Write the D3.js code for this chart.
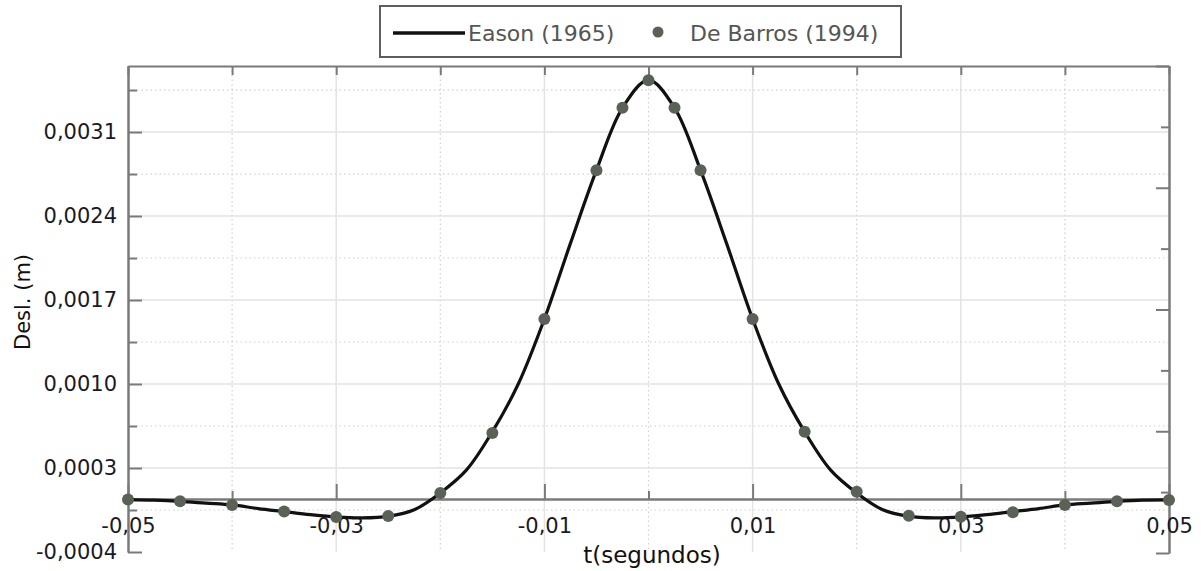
<!DOCTYPE html>
<html>
<head>
<meta charset="utf-8">
<script src="https://cdn.jsdelivr.net/npm/d3@7"></script>
<style>
  body { margin: 0; background: #fff; }
  svg { display: block; font-family: "DejaVu Sans", Verdana, sans-serif; }
</style>
</head>
<body>
<script>
// Eason (1965) - curva continua
var easonT = [-0.05, -0.0475, -0.045, -0.0425, -0.04, -0.0375, -0.035, -0.0325, -0.03, -0.0275,
              -0.025, -0.0225, -0.02, -0.0175, -0.015, -0.0125, -0.01, -0.0075, -0.005, -0.0025,
              0, 0.0025, 0.005, 0.0075, 0.01, 0.0125, 0.015, 0.0175, 0.02, 0.0225,
              0.025, 0.0275, 0.03, 0.0325, 0.035, 0.0375, 0.04, 0.0425, 0.045, 0.0475, 0.05];
var easonDesl = [-0.000005, -0.00001, -0.00002, -0.000035, -0.00005, -0.00008, -0.000105, -0.00013, -0.00015, -0.000158,
                 -0.000145, -0.00009, 0.00005, 0.00024, 0.00056, 0.00096, 0.0015, 0.00213, 0.00274, 0.00326,
                 0.00349, 0.00326, 0.00274, 0.00213, 0.0015, 0.00096, 0.00056, 0.00024, 0.00005, -0.00009,
                 -0.000145, -0.000158, -0.00015, -0.00013, -0.000105, -0.00008, -0.00005, -0.000035, -0.00002, -0.00001, -0.000008];

// De Barros (1994) - pontos
var barrosT = [-0.05, -0.045, -0.04, -0.035, -0.03, -0.025, -0.02, -0.015, -0.01, -0.005, -0.0025, 0,
               0.0025, 0.005, 0.01, 0.015, 0.02, 0.025, 0.03, 0.035, 0.04, 0.045, 0.05];
var barrosDesl = [-0.000005, -0.00002, -0.00005, -0.000105, -0.00015, -0.000142, 0.00005, 0.00055, 0.0015, 0.00274, 0.00326, 0.00349,
                  0.00326, 0.00274, 0.0015, 0.00056, 0.00006, -0.00014, -0.000148, -0.00011, -0.00005, -0.00002, -0.000008];

// eixos
var xTicksMajor = [-0.05, -0.03, -0.01, 0.01, 0.03, 0.05];
var xTicksMinor = [-0.04, -0.02, 0, 0.02, 0.04];
var xTicksTop = [-0.05, -0.04, -0.03, -0.02, -0.01, 0, 0.01, 0.02, 0.03, 0.04, 0.05];
var yTicksMajor = [-0.000442, 0.000258, 0.000958, 0.001658, 0.002358, 0.003058];
var yTicksMinor = [-0.000092, 0.000608, 0.001308, 0.002008, 0.002708, 0.003408];
var rightTicksMajor = [0, 2, 4, 6, 8];
var rightTicksMinor = [1, 3, 5, 7];
var legendNames = ["Eason (1965)", "De Barros (1994)"];

(function() {
  var width = 1202, height = 571;
  var pLeft = 128, pRight = 1169, pTop = 66, pBottom = 552;

  var locale = d3.formatLocale({decimal: ",", thousands: ".", grouping: [3], currency: ["", ""], minus: "-"});

  var svg = d3.select("body").append("svg")
      .attr("width", width)
      .attr("height", height);

  var x = d3.scaleLinear().domain([-0.05, 0.05]).range([pLeft, pRight]);
  var y = d3.scaleLinear().domain([-0.000442, 0.0036083]).range([pBottom, pTop]);
  var yr = d3.scaleLinear().domain([0, 8]).range([pBottom + 1, pTop]);

  // grade
  var grid = svg.append("g");
  grid.selectAll("line.vmaj").data(xTicksMajor.slice(1, -1)).enter().append("line")
      .attr("x1", function(d){ return x(d); }).attr("x2", function(d){ return x(d); })
      .attr("y1", pTop).attr("y2", pBottom)
      .attr("stroke", "#e3e3e3").attr("stroke-width", 1.5);
  grid.selectAll("line.vmin").data(xTicksMinor).enter().append("line")
      .attr("x1", function(d){ return x(d); }).attr("x2", function(d){ return x(d); })
      .attr("y1", pTop).attr("y2", pBottom)
      .attr("stroke", "#cfcfcf").attr("stroke-width", 1.2).attr("stroke-dasharray", "1.5,3");
  grid.selectAll("line.hmaj").data(yTicksMajor.slice(1)).enter().append("line")
      .attr("x1", pLeft).attr("x2", pRight)
      .attr("y1", function(d){ return y(d); }).attr("y2", function(d){ return y(d); })
      .attr("stroke", "#e3e3e3").attr("stroke-width", 1.5);
  grid.selectAll("line.hmin").data(yTicksMinor).enter().append("line")
      .attr("x1", pLeft).attr("x2", pRight)
      .attr("y1", function(d){ return y(d); }).attr("y2", function(d){ return y(d); })
      .attr("stroke", "#cfcfcf").attr("stroke-width", 1.2).attr("stroke-dasharray", "1.5,3");

  function styleAxis(g) {
    g.attr("font-size", 21).attr("font-family", "'DejaVu Sans', Verdana, sans-serif");
    g.select(".domain").attr("stroke", "#7a7a7a").attr("stroke-width", 2);
    g.selectAll(".tick line").attr("stroke", "#7a7a7a").attr("stroke-width", 2);
    g.selectAll(".tick text").attr("fill", "#1a1a24");
  }

  // eixo esquerdo
  var yFmt = locale.format(".4f");
  svg.append("g").attr("transform", "translate(" + pLeft + ",0)")
      .call(d3.axisLeft(y).tickValues(yTicksMinor).tickSize(-9).tickSizeOuter(0).tickFormat(""))
      .call(styleAxis);
  svg.append("g").attr("transform", "translate(" + pLeft + ",0)")
      .call(d3.axisLeft(y).tickValues(yTicksMajor).tickSize(-14).tickSizeOuter(0).tickPadding(11).tickFormat(yFmt))
      .call(styleAxis);

  // eixo direito
  svg.append("g").attr("transform", "translate(" + pRight + ",0)")
      .call(d3.axisRight(yr).tickValues(rightTicksMinor).tickSize(-8).tickSizeOuter(0).tickFormat(""))
      .call(styleAxis);
  svg.append("g").attr("transform", "translate(" + pRight + ",0)")
      .call(d3.axisRight(yr).tickValues(rightTicksMajor).tickSize(-13).tickSizeOuter(0).tickFormat(""))
      .call(styleAxis);

  // eixo superior
  svg.append("g").attr("transform", "translate(0," + pTop + ")")
      .call(d3.axisBottom(x).tickValues(xTicksTop).tickSize(9).tickSizeOuter(0).tickFormat(""))
      .call(styleAxis);

  // eixo x em zero
  var xFmt = locale.format(".2f");
  svg.append("g").attr("transform", "translate(0," + y(0) + ")")
      .call(d3.axisBottom(x).tickValues(xTicksMinor).tickSize(-8).tickSizeOuter(0).tickFormat(""))
      .call(styleAxis);
  svg.append("g").attr("transform", "translate(0," + y(0) + ")")
      .call(d3.axisBottom(x).tickValues(xTicksMajor).tickSize(-15).tickSizeOuter(0).tickPadding(19).tickFormat(xFmt))
      .call(styleAxis);

  // curva Eason
  var eason = easonT.map(function(t, i){ return {t: t, v: easonDesl[i]}; });
  var line = d3.line()
      .x(function(d){ return x(d.t); })
      .y(function(d){ return y(d.v); })
      .curve(d3.curveCatmullRom.alpha(0.5));
  svg.append("path").datum(eason)
      .attr("d", line)
      .attr("fill", "none").attr("stroke", "#111").attr("stroke-width", 3.2);

  // pontos De Barros
  var barros = barrosT.map(function(t, i){ return {t: t, v: barrosDesl[i]}; });
  svg.selectAll("circle.pt").data(barros).enter().append("circle")
      .attr("cx", function(d){ return x(d.t); })
      .attr("cy", function(d){ return y(d.v); })
      .attr("r", 6)
      .attr("fill", "#5a6157");

  // titulos
  svg.append("text").attr("x", 652).attr("y", 563)
      .attr("text-anchor", "middle").style("font-size", "23px").attr("fill", "#111")
      .text("t(segundos)");
  svg.append("text").attr("transform", "translate(30,302) rotate(-90)")
      .attr("text-anchor", "middle").style("font-size", "21px").attr("fill", "#111")
      .text("Desl. (m)");

  // legenda
  var lg = svg.append("g");
  lg.append("rect").attr("x", 380).attr("y", 6).attr("width", 521).attr("height", 51)
      .attr("fill", "#fff").attr("stroke", "#5e5e5e").attr("stroke-width", 2);
  lg.append("line").attr("x1", 393).attr("x2", 465).attr("y1", 33).attr("y2", 33)
      .attr("stroke", "#111").attr("stroke-width", 3.5);
  lg.append("text").attr("x", 468).attr("y", 41).style("font-size", "22px").attr("fill", "#555")
      .text(legendNames[0]);
  lg.append("circle").attr("cx", 658).attr("cy", 32).attr("r", 5.5).attr("fill", "#5a6157");
  lg.append("text").attr("x", 690).attr("y", 41).style("font-size", "22px").attr("fill", "#555")
      .text(legendNames[1]);
})();
</script>
</body>
</html>
